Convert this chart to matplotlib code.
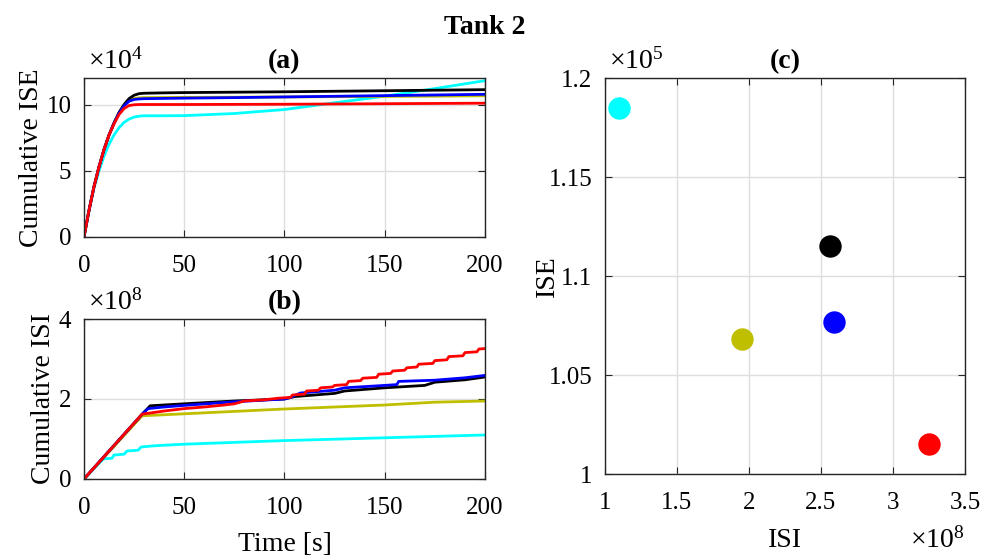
import matplotlib.pyplot as plt
import numpy as np

plt.rcParams['font.family'] = ['Liberation Serif', 'DejaVu Serif']
plt.rcParams['mathtext.fontset'] = 'custom'
plt.rcParams['mathtext.rm'] = 'Liberation Serif'
plt.rcParams['mathtext.it'] = 'Liberation Serif:italic'

# colours of the five controllers (MATLAB style)
colors = {'cyan': (0, 1, 1), 'olive': (0.75, 0.75, 0), 'black': (0, 0, 0),
          'blue': (0, 0, 1), 'red': (1, 0, 0)}
order = ['cyan', 'olive', 'black', 'blue', 'red']

# cumulative ISE, x1e4
ise_t = [0, 2.5, 5, 7.5, 10, 12.5, 15, 17.5, 20, 22.5, 25, 27.5, 30, 40, 50,
         75, 100, 125, 150, 175, 200]
ise_black = [0, 2.0, 3.8, 5.3, 6.6, 7.7, 8.6, 9.4, 10.0, 10.45, 10.7, 10.82, 10.85,
             10.88, 10.9, 10.93, 10.96, 11.0, 11.04, 11.08, 11.12]
ise_blue = [0, 2.0, 3.8, 5.3, 6.6, 7.7, 8.6, 9.35, 9.9, 10.25, 10.38, 10.42, 10.44,
            10.46, 10.48, 10.52, 10.57, 10.62, 10.67, 10.72, 10.77]
ise_olive = [0, 2.0, 3.8, 5.3, 6.6, 7.7, 8.6, 9.4, 9.95, 10.3, 10.45, 10.5, 10.52,
             10.53, 10.54, 10.55, 10.57, 10.59, 10.61, 10.63, 10.66]
ise_red = [0, 2.0, 3.8, 5.3, 6.6, 7.7, 8.55, 9.25, 9.7, 9.92, 9.98, 10.0, 10.0,
           10.0, 10.0, 10.01, 10.02, 10.04, 10.06, 10.08, 10.1]
ise_cyan = [0, 2.0, 3.7, 5.0, 6.1, 7.0, 7.7, 8.25, 8.65, 8.9, 9.05, 9.12, 9.15,
            9.15, 9.16, 9.32, 9.62, 10.13, 10.63, 11.2, 11.8]

# cumulative ISI, x1e8
isi_red_t = [0, 29, 40, 50, 60, 70, 75, 80, 90, 97, 103, 104, 110, 111, 117, 118,
             124, 125, 131, 132, 138, 139, 146, 147, 153, 154, 160, 161, 166, 167,
             174, 175, 181, 182, 189, 190, 196, 197, 200]
isi_red = [0, 1.62, 1.7, 1.76, 1.8, 1.85, 1.88, 1.95, 1.98, 2.02, 2.04, 2.1, 2.12,
           2.2, 2.22, 2.28, 2.3, 2.34, 2.36, 2.44, 2.46, 2.52, 2.54, 2.62, 2.64, 2.7,
           2.72, 2.78, 2.8, 2.87, 2.89, 2.96, 2.98, 3.06, 3.08, 3.16, 3.18, 3.25, 3.26]
isi_blue_t = [0, 29, 32, 40, 50, 75, 100, 103, 108, 125, 130, 150, 156, 157, 175,
              190, 200]
isi_blue = [0, 1.62, 1.76, 1.8, 1.84, 1.93, 2.0, 2.04, 2.15, 2.22, 2.28, 2.34, 2.36,
            2.44, 2.47, 2.53, 2.59]
isi_black_t = [0, 29, 33, 50, 75, 100, 105, 125, 130, 150, 170, 175, 190, 200]
isi_black = [0, 1.62, 1.83, 1.88, 1.95, 2.0, 2.06, 2.14, 2.2, 2.28, 2.34, 2.42,
             2.48, 2.55]
isi_olive_t = [0, 29, 50, 100, 150, 175, 200]
isi_olive = [0, 1.58, 1.63, 1.75, 1.85, 1.92, 1.95]
isi_cyan_t = [0, 9.6, 14, 15, 20, 21.5, 27, 28.5, 35, 50, 100, 150, 200]
isi_cyan = [0, 0.5, 0.52, 0.6, 0.62, 0.7, 0.72, 0.8, 0.83, 0.87, 0.96, 1.03, 1.1]

# final ISI (x1e8) vs final ISE (x1e5)
final_isi = {'cyan': 1.10, 'olive': 1.95, 'black': 2.56, 'blue': 2.59, 'red': 3.25}
final_ise = {'cyan': 1.185, 'olive': 1.068, 'black': 1.115, 'blue': 1.077, 'red': 1.015}

ise_curves = {'black': ise_black, 'blue': ise_blue, 'olive': ise_olive,
              'red': ise_red, 'cyan': ise_cyan}
isi_curves = {'black': (isi_black_t, isi_black), 'blue': (isi_blue_t, isi_blue),
              'olive': (isi_olive_t, isi_olive), 'red': (isi_red_t, isi_red),
              'cyan': (isi_cyan_t, isi_cyan)}

tick_fs = 18
label_fs = 20
exp_fs = 20
axis_col = (0.15, 0.15, 0.15)


def style_axes(ax):
    ax.grid(True, color=(0.87, 0.87, 0.87), linewidth=1)
    ax.set_axisbelow(True)
    for s in ax.spines.values():
        s.set_color(axis_col)
        s.set_linewidth(1)
    ax.tick_params(direction='in', top=True, right=True, labelsize=tick_fs,
                   color=axis_col, length=5)
    ax.tick_params(axis='x', pad=13)
    ax.tick_params(axis='y', pad=9)


fig = plt.figure(figsize=(9.95, 5.58), dpi=100)
fig.text(0.487, 0.950, 'Tank 2', ha='center', va='center', fontsize=20,
         fontweight='bold')

# (a) cumulative ISE
ax1 = fig.add_axes([0.0844, 0.5753, 0.403, 0.2849])
for c in order:
    ax1.plot(ise_t, ise_curves[c], color=colors[c], linewidth=2)
ax1.set_xlim(0, 200)
ax1.set_ylim(0, 12)
ax1.set_xticks([0, 50, 100, 150, 200])
ax1.set_yticks([0, 5, 10])
style_axes(ax1)
ax1.set_ylabel('Cumulative ISE', fontsize=label_fs, labelpad=2)
ax1.set_title('(a)', fontsize=label_fs, fontweight='bold', pad=7)
ax1.text(0.01, 1.02, r'$\times 10^{4}$', transform=ax1.transAxes, fontsize=exp_fs,
         ha='left', va='bottom')

# (b) cumulative ISI
ax2 = fig.add_axes([0.0844, 0.1416, 0.403, 0.2867])
for c in order:
    t, v = isi_curves[c]
    ax2.plot(t, v, color=colors[c], linewidth=2)
ax2.set_xlim(0, 200)
ax2.set_ylim(0, 4)
ax2.set_xticks([0, 50, 100, 150, 200])
ax2.set_yticks([0, 2, 4])
style_axes(ax2)
ax2.set_ylabel('Cumulative ISI', fontsize=label_fs, labelpad=2)
ax2.set_xlabel('Time [s]', fontsize=label_fs, labelpad=9)
ax2.set_title('(b)', fontsize=label_fs, fontweight='bold', pad=7)
ax2.text(0.01, 1.02, r'$\times 10^{8}$', transform=ax2.transAxes, fontsize=exp_fs,
         ha='left', va='bottom')

# (c) ISI vs ISE at the end of the run
ax3 = fig.add_axes([0.608, 0.1505, 0.3618, 0.7097])
for c in order:
    ax3.scatter(final_isi[c], final_ise[c], s=260, color=colors[c], zorder=3,
                linewidths=0)
ax3.set_xlim(1, 3.5)
ax3.set_ylim(1, 1.2)
ax3.set_xticks([1, 1.5, 2, 2.5, 3, 3.5])
ax3.set_xticklabels(['1', '1.5', '2', '2.5', '3', '3.5'])
ax3.set_yticks([1, 1.05, 1.1, 1.15, 1.2])
ax3.set_yticklabels(['1', '1.05', '1.1', '1.15', '1.2'])
style_axes(ax3)
ax3.set_xlabel('ISI', fontsize=label_fs, labelpad=10)
ax3.set_ylabel('ISE', fontsize=label_fs, labelpad=-8)
ax3.set_title('(c)', fontsize=label_fs, fontweight='bold', pad=7)
ax3.text(0.01, 1.008, r'$\times 10^{5}$', transform=ax3.transAxes, fontsize=exp_fs,
         ha='left', va='bottom')
ax3.text(1.0, -0.135, r'$\times 10^{8}$', transform=ax3.transAxes, fontsize=exp_fs,
         ha='right', va='top')

fig.savefig('out.png', dpi=100)
